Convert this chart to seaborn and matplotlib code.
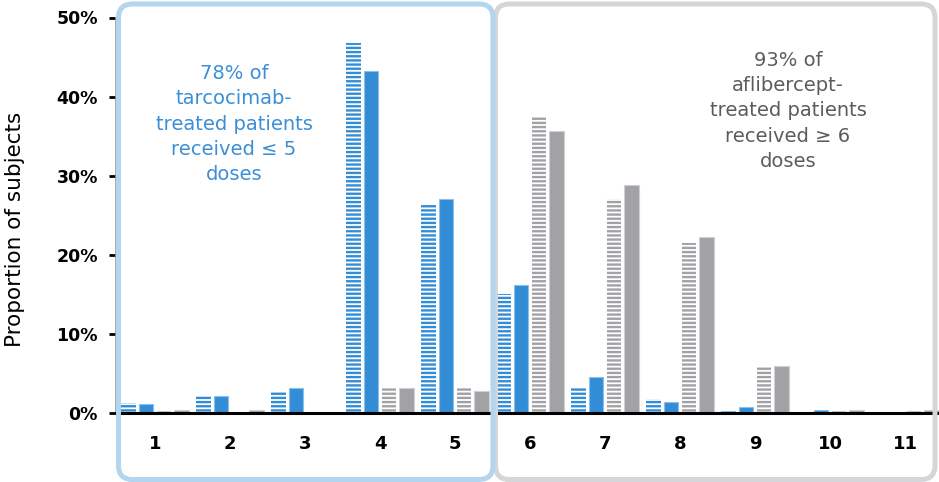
import matplotlib
matplotlib.use("Agg")
import matplotlib.pyplot as plt
from matplotlib.patches import FancyBboxPatch
from matplotlib.transforms import Affine2D
import pandas as pd
import seaborn as sns

# Number of doses received and share of subjects (%) per treatment arm
doses = ["1", "2", "3", "4", "5", "6", "7", "8", "9", "10", "11"]
tarco_a = [1.3, 2.3, 2.7, 46.8, 26.4, 15.0, 3.2, 1.8, 0.3, 0.0, 0.0]
tarco_b = [1.1, 2.1, 3.2, 43.2, 27.1, 16.2, 4.6, 1.4, 0.7, 0.4, 0.0]
afli_a = [0.3, 0.0, 0.0, 3.2, 3.2, 37.5, 27.1, 21.5, 5.9, 0.3, 0.3]
afli_b = [0.4, 0.4, 0.0, 3.2, 2.8, 35.6, 28.8, 22.2, 6.0, 0.4, 0.4]
series_names = ["Tarcocimab A", "Tarcocimab B", "Aflibercept A", "Aflibercept B"]
y_ticks = [0, 10, 20, 30, 40, 50]

BLUE = "#338dd6"
GRAY = "#a2a2a6"
BLUE_TXT = "#3b8fd6"
GRAY_TXT = "#5c5c5e"

df = pd.DataFrame({
    "dose": doses * 4,
    "series": sum([[n] * len(doses) for n in series_names], []),
    "value": tarco_a + tarco_b + afli_a + afli_b,
})

sns.set_theme(style="white")
plt.rcParams["font.family"] = ["DejaVu Sans"]
plt.rcParams["hatch.linewidth"] = 1.7

W, H = 939, 482
fig = plt.figure(figsize=(W / 100, H / 100), dpi=100)
ax = fig.add_axes([116 / W, 1 - 413 / H, (W - 116) / W, (413 - 17.5) / H])
ax.set_facecolor("none")

sns.barplot(data=df, x="dose", y="value", hue="series", hue_order=series_names,
            order=doses, palette=[BLUE, BLUE, GRAY, GRAY], width=0.944, gap=0.18,
            saturation=1, legend=False, ax=ax)

# Striped bars for the first series of each arm, solid bars for the second
edge_light = {0: "#8cc0ea", 1: "#8cc0ea", 2: "#d0d0d3", 3: "#d0d0d3"}
base_col = {0: BLUE, 1: BLUE, 2: GRAY, 3: GRAY}
for i, cont in enumerate(ax.containers):
    for bar in cont:
        if i in (0, 2):
            bar.set_facecolor("white")
            bar.set_edgecolor(base_col[i])
            bar.set_linewidth(0)
            bar.set_hatch("----")
        else:
            bar.set_facecolor(base_col[i])
            bar.set_edgecolor(edge_light[i])
            bar.set_linewidth(0.8)

ax.set_xlim(-0.52, 10.453)
ax.set_ylim(0, 50)
ax.set_yticks(y_ticks)
ax.set_yticklabels([f"{t}%" for t in y_ticks], fontweight="bold", fontsize=12.5, color="black")
ax.set_xticks(range(len(doses)))
ax.set_xticklabels(doses, fontweight="bold", fontsize=13, color="black")
ax.tick_params(axis="y", left=True, length=5, width=2, color="black", pad=8)
ax.tick_params(axis="x", bottom=False, pad=10)
ax.set_xlabel("")
ax.set_ylabel("")

for s in ("top", "right"):
    ax.spines[s].set_visible(False)
ax.spines["left"].set_color("#9a9a9a")
ax.spines["left"].set_linewidth(1.2)
ax.spines["bottom"].set_color("black")
ax.spines["bottom"].set_linewidth(2.2)

fig.text(15 / W, 1 - 229.5 / H, "Proportion of subjects", rotation=90,
         ha="center", va="center", fontsize=15.5, color="black")

# Rounded frames around the two dose ranges, positioned in pixel units
px = Affine2D().scale(1 / W, 1 / H) + fig.transFigure
def frame(x0, x1, y_top, y_bot, color):
    p = FancyBboxPatch((x0, H - y_bot), x1 - x0, y_bot - y_top,
                       boxstyle="round,pad=0,rounding_size=14",
                       transform=px, facecolor="none", edgecolor=color,
                       linewidth=3.6, zorder=5)
    fig.patches.append(p)

frame(495.5, 935.0, 4.0, 479.5, "#d5d6d8")
frame(118.5, 493.0, 4.0, 479.5, "#b3d5ee")

fig.text(234 / W, 1 - 124 / H,
         "78% of\ntarcocimab-\ntreated patients\nreceived \u2264 5\ndoses",
         ha="center", va="center", multialignment="center", fontsize=14,
         color=BLUE_TXT, linespacing=1.42)
fig.text(788 / W, 1 - 111 / H,
         "93% of\naflibercept-\ntreated patients\nreceived \u2265 6\ndoses",
         ha="center", va="center", multialignment="center", fontsize=14,
         color=GRAY_TXT, linespacing=1.42)

fig.savefig("out.png", dpi=100)
